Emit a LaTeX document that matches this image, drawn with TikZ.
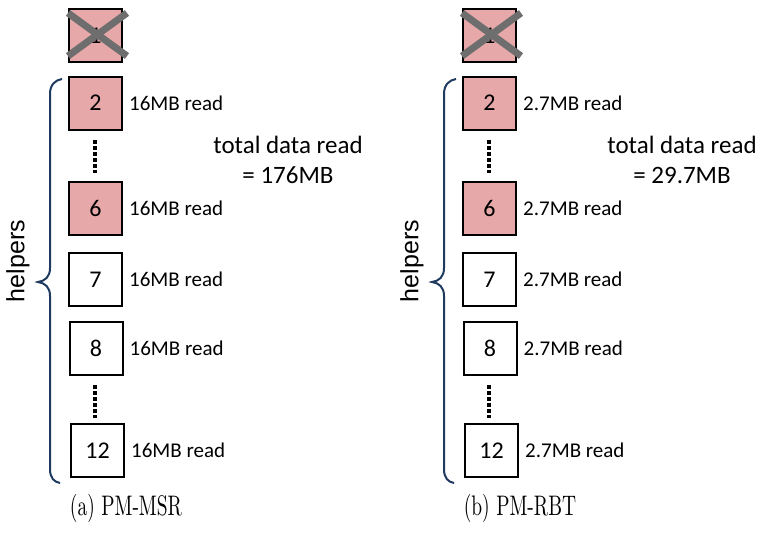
\documentclass[tikz,border=0pt]{standalone}
\usepackage{fontspec}
\usepackage{graphicx}
\newfontfamily\carl{Carlito}
\newfontfamily\arialf{Liberation Sans}
\newfontfamily\capfont{lmroman10-regular}[Extension=.otf]
\definecolor{boxpink}{HTML}{E6A8A8}
\definecolor{bracecol}{HTML}{1F3A5F}
\definecolor{crossgray}{HTML}{6E6E6E}
\newcommand\drawpanel[5]{%
  % #1 prefix, #2 x offset, #3 per-helper label, #4 total, #5 caption
  \begin{scope}[xshift=#2]
    \node[boxnode, fill=boxpink] (#1b1) at (95.5,35.5) {1};
    \draw[crossline] (68,13) -- (127,56);
    \draw[crossline] (127,13) -- (68,56);
    \node[boxnode, fill=boxpink] (#1b2) at (95.5,103) {2};
    \node[boxnode, fill=boxpink] (#1b6) at (95.5,208) {6};
    \node[boxnode, fill=white] (#1b7) at (95.5,279.5) {7};
    \node[boxnode, fill=white] (#1b8) at (96,348) {8};
    \node[boxnode, fill=white] (#1b12) at (97.5,450.5) {12};
    \coordinate (#1d1) at (95,140);
    \coordinate (#1d2) at (95,173);
    \coordinate (#1d3) at (95,385);
    \coordinate (#1d4) at (95,418);
    \draw[dotline] (#1d1) -- (#1d2);
    \draw[dotline] (#1d3) -- (#1d4);
    \foreach \b in {2,6,7,8,12}{
      \node[readlabel] (#1l\b) at ([xshift=6]#1b\b.east) {#3};
    }
    \node[totallabel] (#1tot) at (288,160) {total data read\\= #4};
    \draw[bracecol, line width=2] (62,79) .. controls (55,80) and (50,85) .. (50,94)
      -- (50,268) .. controls (50,277) and (45,281) .. (38,282)
      .. controls (45,283) and (50,287) .. (50,296)
      -- (50,469) .. controls (50,478) and (54,482) .. (60,483);
    \node[rotate=90, font=\arialf\fontsize{25}{30}\selectfont] (#1help) at (18,261) {helpers};
    \node[font=\capfont\fontsize{19.5}{24}\selectfont, inner sep=0] (#1cap) at (126,508.5) {\scalebox{1}[1.45]{#5}};
  \end{scope}
}
\begin{document}
\begin{tikzpicture}[x=1pt,y=-1pt,
  boxnode/.style={draw=black, line width=2, minimum width=53, minimum height=53, inner sep=0,
    font=\carl\fontsize{24}{28}\selectfont},
  crossline/.style={draw=crossgray, line width=7},
  dotline/.style={draw=black, line width=3.5, dash pattern=on 3.5 off 2.5},
  readlabel/.style={anchor=west, inner sep=0, font=\carl\fontsize{21}{25}\selectfont},
  totallabel/.style={align=center, inner sep=0, font=\carl\fontsize{25}{30}\selectfont}]
\useasboundingbox (0,0) rectangle (767,535);
\drawpanel{a}{0}{16MB read}{176MB}{(a) PM-MSR}
\drawpanel{b}{394}{2.7MB read}{29.7MB}{(b) PM-RBT}
\end{tikzpicture}
\end{document}
